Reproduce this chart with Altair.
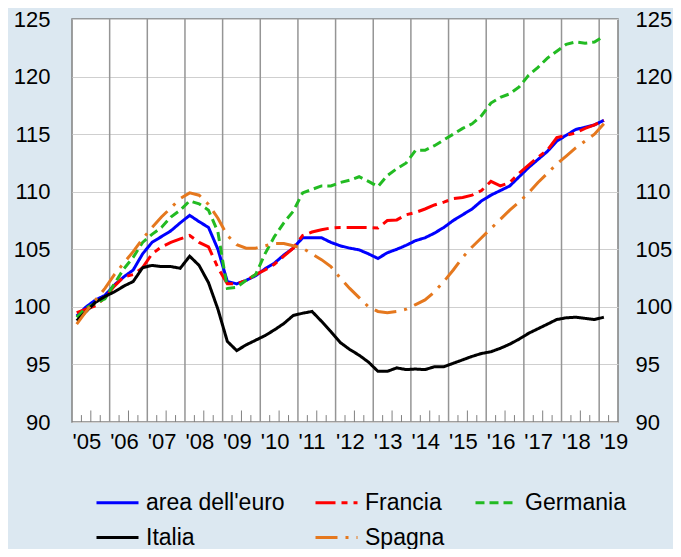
import altair as alt
import pandas as pd

# quarterly observations, 2005Q1 .. 2019Q1
quarters = [f"{y}Q{q}" for y in range(2005, 2020) for q in range(1, 5)][:57]

names = ["area dell'euro", "Francia", "Germania", "Italia", "Spagna"]
colors = ["#0000ff", "#ff0000", "#22bb22", "#000000", "#e5781e"]
dashes = [[1, 0], [20, 6, 6, 6], [9, 5], [1, 0], [22, 8, 3, 8]]

euro = [99.2, 100.0, 100.6, 101.0, 101.9, 102.6, 103.2, 104.6, 105.6, 106.1,
        106.6, 107.3, 107.95, 107.4, 106.9, 105.0, 102.2, 102.0, 102.3, 102.7,
        103.3, 103.8, 104.5, 105.1, 106.0, 106.0, 106.0, 105.6, 105.3, 105.1,
        104.95, 104.6, 104.2, 104.7, 105.0, 105.35, 105.75, 106.0, 106.4, 106.9,
        107.5, 108.0, 108.5, 109.2, 109.7, 110.1, 110.5, 111.3, 112.1, 112.8,
        113.5, 114.4, 114.9, 115.4, 115.6, 115.8, 116.2]
francia = [99.5, 99.8, 100.1, 100.8, 101.8, 102.6, 102.8, 103.4, 104.6, 105.2,
           105.6, 105.9, 106.2, 105.6, 105.2, 103.4, 102.0, 102.0, 102.3, 102.8,
           103.2, 103.7, 104.4, 105.1, 106.2, 106.5, 106.7, 106.85, 106.9, 106.9,
           106.9, 106.9, 106.85, 107.5, 107.55, 108.0, 108.2, 108.5, 108.85, 109.1,
           109.4, 109.5, 109.7, 110.1, 110.9, 110.5, 110.8, 111.6, 112.3, 113.0,
           113.6, 114.7, 114.9, 115.1, 115.5, 115.8, 116.2]
germania = [99.1, 99.9, 100.3, 100.7, 102.0, 103.3, 104.3, 105.6, 106.3, 106.9,
            107.8, 108.4, 109.2, 108.95, 108.4, 106.5, 101.6, 101.7, 102.3, 102.8,
            104.6, 106.1, 107.3, 108.3, 109.9, 110.2, 110.5, 110.5, 110.8, 111.0,
            111.3, 110.9, 110.45, 111.4, 112.0, 112.5, 113.6, 113.6, 114.0, 114.5,
            115.0, 115.5, 115.9, 116.6, 117.7, 118.2, 118.5, 119.1, 120.1, 120.8,
            121.6, 122.2, 122.8, 123.0, 122.9, 123.0, 123.5]
italia = [98.8, 99.6, 100.4, 100.9, 101.3, 101.8, 102.2, 103.4, 103.6, 103.5,
          103.5, 103.35, 104.4, 103.6, 102.1, 99.8, 97.0, 96.2, 96.7, 97.1,
          97.5, 98.0, 98.55, 99.25, 99.45, 99.6, 98.75, 97.85, 96.9, 96.3,
          95.8, 95.2, 94.4, 94.4, 94.7, 94.55, 94.6, 94.55, 94.8, 94.8,
          95.1, 95.4, 95.7, 95.95, 96.1, 96.4, 96.76, 97.2, 97.7, 98.1,
          98.5, 98.9, 99.05, 99.1, 99.0, 98.9, 99.1]
spagna = [98.5, 99.6, 100.6, 101.6, 102.8, 103.8, 104.8, 105.9, 106.9, 107.8,
          108.6, 109.4, 109.9, 109.7, 108.9, 107.7, 106.2, 105.4, 105.1, 105.1,
          105.3, 105.5, 105.5, 105.3, 105.1, 104.6, 104.1, 103.5, 102.5, 101.6,
          100.8, 100.0, 99.6, 99.5, 99.6, 99.8, 100.2, 100.6, 101.3, 102.2,
          103.2, 104.3, 105.2, 106.0, 106.8, 107.6, 108.4, 109.1, 109.9, 110.8,
          111.6, 112.4, 113.1, 113.8, 114.4, 115.0, 115.9]

series = [euro, francia, germania, italia, spagna]

y_ticks = [90, 95, 100, 105, 110, 115, 120, 125]
year_lines = list(range(2006, 2020))
label_pos = list(range(2005, 2020))
tick_pos = [y + f for y in range(2005, 2019) for f in (0.25, 0.5, 0.75)] + [2019.25]
tick_top = [90.6, 91.0, 90.6] * 14 + [90.6]


def qpos(q):
    return int(q[:4]) + (int(q[-1]) - 0.5) / 4


rows = []
for name, vals in zip(names, series):
    for q, v in zip(quarters, vals):
        rows.append({"serie": name, "pos": qpos(q), "value": v})
df = pd.DataFrame(rows)

grid_df = pd.DataFrame({"pos": year_lines, "base": 90, "top": 125})
tick_df = pd.DataFrame({"pos": tick_pos, "base": 90, "top": tick_top})

FONT = "Liberation Sans"
xscale = alt.Scale(domain=[2005, 2019.5], nice=False, zero=False)
yscale = alt.Scale(domain=[90, 125], nice=False, zero=False)

xaxis = alt.Axis(
    values=label_pos,
    labelExpr="\"'\" + format(floor(datum.value) % 100, '02d')",
    labelFlush=False, labelOverlap=False, labelAlign="left", labelOffset=0,
    grid=False, ticks=False, domain=False, labelFontSize=22, labelFont=FONT,
    labelColor="black", labelPadding=9, title=None)

legend = alt.Legend(
    title=None, orient="none", legendX=23, legendY=461, columns=3,
    direction="horizontal",
    symbolType="stroke", symbolSize=1764, symbolStrokeWidth=3,
    labelFont=FONT, labelFontSize=23, labelColor="black", labelOffset=6,
    columnPadding=24, rowPadding=-4, labelLimit=300,
)

grid = alt.Chart(grid_df).mark_rule(color="#959595", strokeWidth=1.5).encode(
    x=alt.X("pos:Q", scale=xscale, axis=xaxis),
    y=alt.Y("base:Q", scale=yscale, axis=None),
    y2="top:Q",
)

ticks = alt.Chart(tick_df).mark_rule(color="#808080", strokeWidth=1).encode(
    x=alt.X("pos:Q", scale=xscale, axis=xaxis),
    y=alt.Y("base:Q", scale=yscale, axis=alt.Axis(
        orient="right", values=y_ticks, grid=False, ticks=False, domain=False,
        labelPadding=17, labelFontSize=22, labelFont=FONT, labelColor="black",
        title=None)),
    y2="top:Q",
)

lines = alt.Chart(df).mark_line(strokeWidth=3).encode(
    x=alt.X("pos:Q", scale=xscale, axis=xaxis),
    y=alt.Y("value:Q", scale=yscale, axis=alt.Axis(
        values=y_ticks, grid=True, gridColor="#cfcfcf", gridWidth=1, ticks=False,
        domain=False, labelPadding=22, labelFontSize=22, labelFont=FONT,
        labelColor="black", title=None)),
    color=alt.Color("serie:N", scale=alt.Scale(domain=names, range=colors), legend=legend),
    strokeDash=alt.StrokeDash("serie:N", scale=alt.Scale(domain=names, range=dashes), legend=legend),
)

chart = alt.layer(grid, ticks, lines).resolve_axis(y="independent").properties(
    width=546, height=403,
    autosize=alt.AutoSizeParams(type="none"),
    padding={"left": 64, "top": 11, "right": 55, "bottom": 127},
    background="#dce8f1",
).configure_view(stroke="#808080", strokeWidth=1.5, fill="white")

chart.save("out.html", embed_options={"renderer": "svg", "actions": False})
